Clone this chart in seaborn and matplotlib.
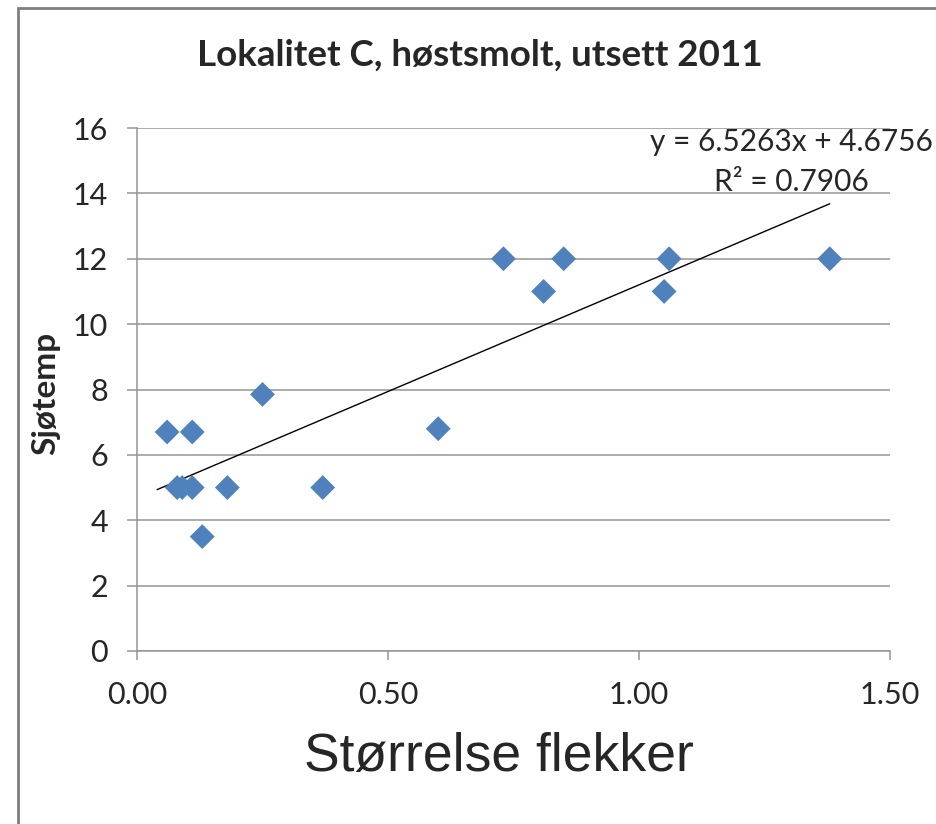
import matplotlib
matplotlib.use("Agg")
import matplotlib.pyplot as plt
import seaborn as sns
import pandas as pd
import numpy as np
from matplotlib.patches import Rectangle

# data
flekker = [0.06, 0.11, 0.25, 0.08, 0.09, 0.11, 0.18, 0.37, 0.13, 0.60,
           0.73, 0.81, 0.85, 1.05, 1.06, 1.38]
sjotemp = [6.7, 6.7, 7.85, 5.0, 5.0, 5.0, 5.0, 5.0, 3.5, 6.8,
           12.0, 11.0, 12.0, 11.0, 12.0, 12.0]
slope = 6.5263
intercept = 4.6756
r2 = 0.7906
trend_range = [0.04, 1.38]

sns.set_theme(style="white")
plt.rcParams["font.family"] = ["Lato", "DejaVu Sans"]

df = pd.DataFrame({"flekker": flekker, "sjotemp": sjotemp})
trend = pd.DataFrame({"x": trend_range})
trend["y"] = slope * trend["x"] + intercept

fig = plt.figure(figsize=(9.37, 8.24), dpi=100)
ax = fig.add_axes([137 / 937, 1 - 651 / 824, (890 - 137) / 937, (651 - 128) / 824])

grid_col = "#959595"
ax.set_ylim(0, 16)
ax.set_xlim(0, 1.5)
ax.set_yticks(np.arange(0, 17, 2))
ax.set_xticks([0, 0.5, 1.0, 1.5])
ax.set_xticklabels(["0.00", "0.50", "1.00", "1.50"])
ax.yaxis.grid(True, color=grid_col, lw=1.1)
ax.xaxis.grid(False)
ax.set_axisbelow(True)

sns.lineplot(data=trend, x="x", y="y", ax=ax, color="black", lw=1.0, zorder=2)
sns.scatterplot(data=df, x="flekker", y="sjotemp", ax=ax, marker="D", s=160,
                color="#4f81bd", edgecolor="none", zorder=3)

for side in ["top", "right"]:
    ax.spines[side].set_visible(False)
for side in ["left", "bottom"]:
    ax.spines[side].set_color(grid_col)
    ax.spines[side].set_linewidth(1.1)

ax.tick_params(axis="x", direction="out", length=6.5, width=1.1, color=grid_col,
               labelsize=22, pad=15, bottom=True)
ax.tick_params(axis="y", direction="out", length=7, width=1.1, color=grid_col,
               labelsize=22, pad=14, left=True)

ax.set_xlabel("")
ax.set_ylabel("")
fig.text(499 / 937, 1 - 757 / 824, "Størrelse flekker", ha="center", va="center",
         fontsize=38.5, family=["Liberation Sans", "DejaVu Sans"])
fig.text(46 / 937, 1 - 393 / 824, "Sjøtemp", rotation=90, ha="center", va="center",
         fontsize=24, fontweight="bold")
fig.text(480 / 937, 1 - 55 / 824, "Lokalitet C, høstsmolt, utsett 2011",
         ha="center", va="center", fontsize=26.5, fontweight="bold")

fig.text(791 / 937, 1 - 142 / 824, f"y = {slope}x + {intercept}",
         ha="center", va="center", fontsize=21.5)
fig.text(791 / 937, 1 - 182 / 824, f"R² = {r2}",
         ha="center", va="center", fontsize=21.5)

fig.patches.append(Rectangle((18 / 937, -0.1), 1.2, 1.1 - 8 / 824,
                             transform=fig.transFigure, fill=False,
                             edgecolor="#7f7f7f", lw=2.0))

fig.savefig("out.png", dpi=100)
